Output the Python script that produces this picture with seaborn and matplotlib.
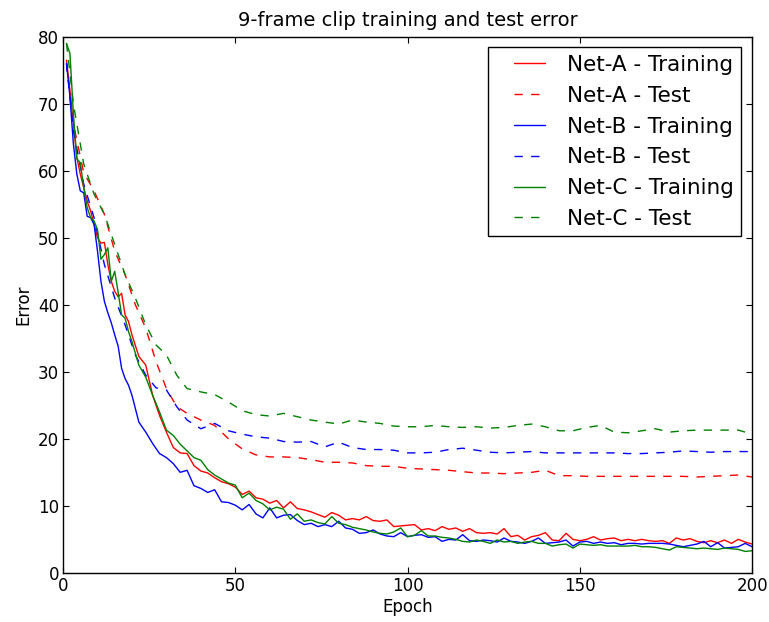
import numpy as np
import pandas as pd
import matplotlib
matplotlib.use("Agg")
import matplotlib.pyplot as plt
from matplotlib.legend_handler import HandlerLine2D
import seaborn as sns

# ---------------- data ----------------
train_epochs = list(range(1, 21)) + list(range(22, 201, 2))
test_epochs = [1, 3, 6, 9, 12, 15, 18, 21, 24, 27, 30, 33, 36] + list(range(40, 201, 4))

net_a_train = [76.5, 72, 67, 62, 59.5, 57.5, 55.5, 54, 52, 50, 49.2, 49.3, 46, 43.5, 42, 41.2, 41.7, 38.5, 37.5, 35.5,
               32.3, 31, 26.5, 23.5, 21, 18.7, 17.9, 17.8, 16, 15.2, 14.9, 14.2, 13.6, 13.3, 12.8, 11.7, 12.2, 11.2, 11.0, 10.4,
               10.8, 9.7, 10.6, 9.6, 9.4, 9.1, 8.7, 8.3, 9.0, 8.6, 7.9, 8.1, 7.9, 8.4, 7.8, 7.7, 7.9, 6.9, 7.0, 7.1,
               7.2, 6.4, 6.6, 6.3, 6.9, 6.5, 6.7, 6.2, 6.6, 6.0, 5.9, 6.0, 5.8, 6.6, 5.4, 5.6, 4.9, 5.4, 5.6, 6.0,
               4.9, 4.8, 5.9, 5.0, 4.8, 5.0, 5.4, 4.9, 5.1, 5.2, 4.8, 5.0, 4.8, 5.0, 4.8, 4.7, 4.8, 4.4, 5.2, 4.9,
               5.1, 4.7, 4.5, 4.8, 4.5, 4.9, 4.4, 5.0, 4.6, 4.3]
net_b_train = [76, 71, 64, 59.5, 57, 56.7, 53.2, 53, 52, 48, 43.5, 40.5, 38.8, 37.3, 35.5, 33.8, 30.5, 29, 28, 26.5,
               22.5, 21, 19.3, 17.8, 17.2, 16.3, 15, 15.3, 13, 12.6, 12, 12.4, 10.6, 10.5, 10.1, 9.4, 10.2, 8.8, 8.2, 9.7,
               8.2, 8.6, 8.7, 7.8, 7.2, 7.4, 6.9, 7.2, 6.9, 7.7, 6.7, 6.5, 5.9, 6.0, 6.4, 5.8, 5.5, 5.4, 6.0, 5.4,
               5.6, 5.7, 5.3, 5.4, 4.7, 5.0, 4.9, 5.7, 4.8, 4.7, 4.9, 4.8, 4.6, 5.2, 4.7, 4.6, 4.4, 4.7, 5.2, 4.4,
               4.5, 4.6, 4.9, 4.0, 4.6, 4.7, 4.4, 4.6, 4.4, 4.5, 4.2, 4.4, 4.4, 4.3, 4.4, 4.4, 4.4, 4.3, 4.1, 3.9,
               4.1, 4.3, 4.7, 3.9, 4.5, 3.7, 3.8, 3.9, 4.4, 3.9]
net_c_train = [79, 77.5, 68.5, 61.8, 61.2, 57.5, 54.5, 53, 52.5, 51.2, 46.8, 47.5, 48.5, 43.5, 45, 41.8, 38.5, 38, 36, 34.5,
               31, 29.2, 26.5, 24, 21.3, 20.5, 19.2, 18.2, 17.2, 16.8, 15.4, 14.6, 14.0, 13.4, 13.1, 11.2, 11.9, 10.8, 10.3, 9.4,
               9.8, 9.5, 8.0, 8.8, 7.7, 7.9, 7.5, 7.3, 8.4, 7.4, 7.2, 6.8, 6.6, 6.4, 6.1, 5.9, 5.8, 6.1, 6.7, 5.4,
               5.6, 6.3, 5.5, 5.5, 5.3, 5.2, 5.0, 4.7, 4.6, 4.9, 4.7, 4.4, 4.9, 4.6, 4.7, 4.4, 4.6, 4.7, 4.4, 4.4,
               4.0, 4.2, 4.3, 3.7, 4.3, 4.2, 4.1, 4.2, 4.0, 4.0, 4.0, 4.0, 4.1, 3.9, 3.9, 3.8, 3.6, 3.4, 3.9, 3.8,
               3.7, 3.6, 3.7, 3.6, 3.5, 3.7, 3.6, 3.5, 3.2, 3.3]

net_a_test = [76, 67, 59.7, 57, 53.5, 48, 44.5, 40, 36.5, 31.5, 27.5, 24.8, 23.8,
              22.8, 22, 20, 18.5, 17.6, 17.3, 17.3, 17.2, 16.9, 16.5, 16.5, 16.4, 16.0, 15.9, 15.9, 15.6,
              15.5, 15.4, 15.3, 15.1, 14.9, 14.9, 14.8, 14.9, 15.0, 15.3, 14.5, 14.5, 14.4, 14.4, 14.4,
              14.4, 14.4, 14.4, 14.4, 14.4, 14.3, 14.4, 14.5, 14.6, 14.3]
net_b_test = [76, 66, 58, 53, 46, 41, 37, 32.5, 29.5, 27.6, 27.3, 24.8, 22.8,
              21.5, 22.3, 21.2, 20.7, 20.3, 20.1, 19.6, 19.5, 19.6, 18.8, 19.5, 18.7, 18.4, 18.4, 18.3, 17.9,
              17.9, 18.0, 18.4, 18.6, 18.3, 18.0, 17.9, 18.0, 18.1, 17.9, 17.9, 17.9, 17.9, 17.9, 17.9,
              17.8, 17.8, 17.9, 18.0, 18.2, 18.1, 18.0, 18.1, 18.1, 18.1]
net_c_test = [79, 70, 61, 56.5, 53.5, 49, 44.5, 41, 37, 34, 32.5, 29.5, 27.5,
              27, 26.6, 25.5, 24.2, 23.6, 23.4, 23.8, 23.3, 22.8, 22.5, 22.2, 22.8, 22.5, 22.3, 21.9, 21.8,
              21.8, 22.0, 21.8, 21.7, 21.8, 21.6, 21.7, 22.0, 22.2, 21.8, 21.2, 21.2, 21.7, 22.0, 21.0,
              20.9, 21.2, 21.5, 21.0, 21.2, 21.3, 21.3, 21.3, 21.3, 20.7]

series_labels = ["Net-A - Training", "Net-A - Test", "Net-B - Training",
                 "Net-B - Test", "Net-C - Training", "Net-C - Test"]
title = "9-frame clip training and test error"
x_label = "Epoch"
y_label = "Error"
x_ticks = [0, 50, 100, 150, 200]
y_ticks = [0, 10, 20, 30, 40, 50, 60, 70, 80]

# ---------------- style ----------------
sns.set_theme(style="white")
plt.rcParams.update({
    "font.family": ["DejaVu Sans"],
    "axes.edgecolor": "black",
    "axes.linewidth": 1.0,
    "xtick.direction": "in",
    "ytick.direction": "in",
    "xtick.top": True,
    "ytick.right": True,
    "xtick.bottom": True,
    "ytick.left": True,
    "xtick.major.size": 4,
    "ytick.major.size": 4,
    "xtick.color": "black",
    "ytick.color": "black",
    "text.color": "black",
    "axes.labelcolor": "black",
})

fig = plt.figure(figsize=(7.69, 6.22), dpi=100)
ax = fig.add_axes([0.082, 0.079, 0.896, 0.862])

specs = [
    (train_epochs, net_a_train, series_labels[0], "#ff0000", "-"),
    (test_epochs, net_a_test, series_labels[1], "#ff0000", "--"),
    (train_epochs, net_b_train, series_labels[2], "#0000ff", "-"),
    (test_epochs, net_b_test, series_labels[3], "#0000ff", "--"),
    (train_epochs, net_c_train, series_labels[4], "#008000", "-"),
    (test_epochs, net_c_test, series_labels[5], "#008000", "--"),
]
for xs, ys, lab, col, ls in specs:
    df = pd.DataFrame({"Epoch": xs, "Error": ys})
    sns.lineplot(data=df, x="Epoch", y="Error", ax=ax, color=col,
                 linestyle=ls, linewidth=1.0, label=lab)
for ln in ax.get_lines():
    if ln.get_linestyle() == "--":
        ln.set_dashes((6, 6))

ax.set_xlim(0, 200)
ax.set_ylim(0, 80)
ax.set_xticks(x_ticks)
ax.set_yticks(y_ticks)
ax.tick_params(labelsize=12, pad=3, width=0.8)
ax.set_title(title, fontsize=14, pad=8)
ax.set_xlabel(x_label, fontsize=12, labelpad=2)
ax.set_ylabel(y_label, fontsize=12, labelpad=4)

handles, labels = ax.get_legend_handles_labels()
leg = ax.legend(handles, labels, loc="upper right", fontsize=15.5, frameon=True,
                fancybox=False, edgecolor="black", framealpha=1.0,
                handlelength=2.3, handletextpad=1.0, labelspacing=0.5,
                borderpad=0.35, borderaxespad=0.5,
                handler_map={h: HandlerLine2D(xpad=0.85) for h in handles})
leg.get_frame().set_linewidth(1.0)
for h in leg.get_lines():
    if h.get_linestyle() == "--":
        h.set_dashes((6, 6))

fig.savefig("out.png", dpi=100)
